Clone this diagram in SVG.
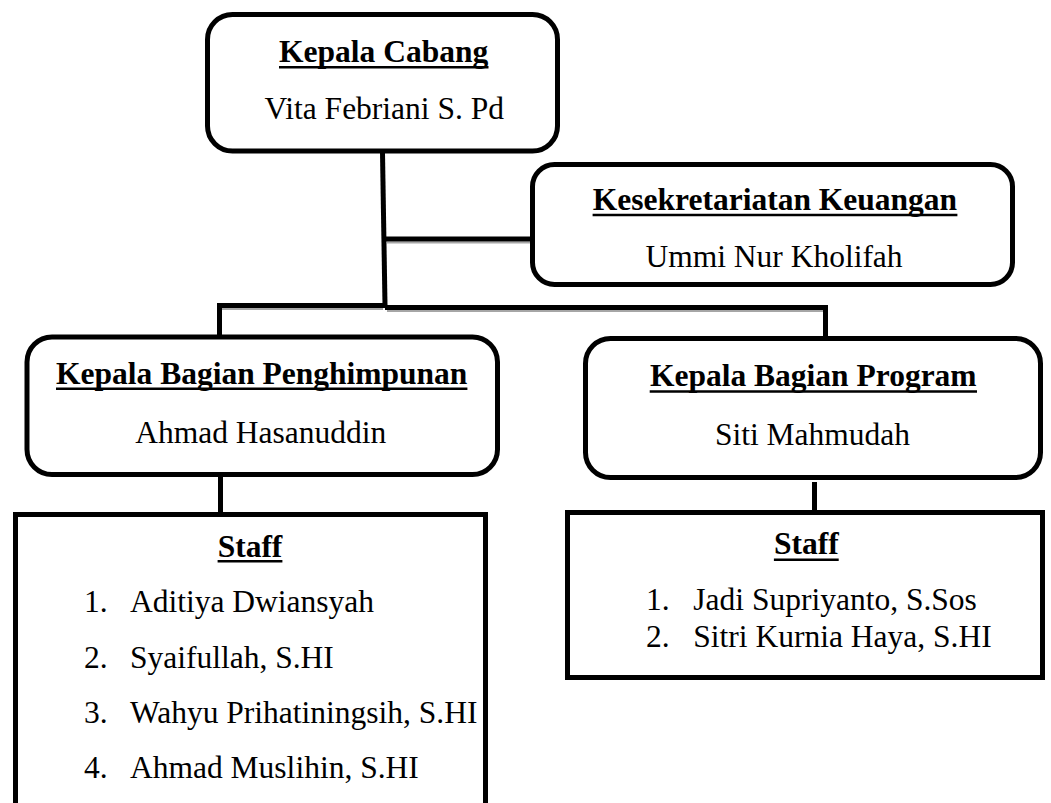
<svg xmlns="http://www.w3.org/2000/svg" width="1051" height="803" viewBox="0 0 1051 803">
<style>
.box{fill:#fff;stroke:#000;stroke-width:5}
.conn{fill:none;stroke:#000;stroke-width:5;stroke-linejoin:miter;stroke-linecap:butt}
.shadow{fill:none;stroke:#a6a6a6;stroke-width:2}
.t{font-family:"Liberation Serif","Times New Roman",serif;font-size:31.5px;fill:#000}
.b{font-weight:bold}
.c{text-anchor:middle}
.ul{stroke:#000;stroke-width:2.6}
</style>
<rect width="1051" height="803" fill="#fff"/>
<g id="connectors">
  <path class="shadow" d="M387 242.5 H530"/>
  <path class="shadow" d="M222 309 H383"/>
  <path class="shadow" d="M387 311 H823"/>
  <path class="conn" d="M382.5 153 L385 305"/>
  <path class="conn" d="M385 239 H532"/>
  <path class="conn" d="M219.5 337 V305.5 H385"/>
  <path class="conn" d="M385 307.5 H825.5 V338"/>
  <path class="conn" d="M220.5 477 V512"/>
  <path class="conn" d="M814.5 482 V510"/>
</g>
<g id="kepala-cabang">
  <rect class="box" x="207.5" y="14.5" width="350" height="136.5" rx="25"/>
  <text class="t b c" x="383.7" y="62">Kepala Cabang</text>
  <line class="ul" x1="279" y1="67.3" x2="488.5" y2="67.3"/>
  <text class="t c" x="384.2" y="119">Vita Febriani S. Pd</text>
</g>
<g id="kesekretariatan">
  <rect class="box" x="532.5" y="164.5" width="480" height="120" rx="22"/>
  <text class="t b c" x="775" y="210">Kesekretariatan Keuangan</text>
  <line class="ul" x1="592.6" y1="215" x2="957.4" y2="215"/>
  <text class="t c" x="774" y="266.7">Ummi Nur Kholifah</text>
</g>
<g id="kabag-penghimpunan">
  <rect class="box" x="27" y="337" width="470.5" height="137.5" rx="25"/>
  <text class="t b c" x="261.7" y="384.3">Kepala Bagian Penghimpunan</text>
  <line class="ul" x1="56" y1="388.7" x2="467.4" y2="388.7"/>
  <text class="t c" x="260.8" y="443.3">Ahmad Hasanuddin</text>
</g>
<g id="kabag-program">
  <rect class="box" x="585.5" y="338.5" width="455" height="139" rx="25"/>
  <text class="t b c" x="813.3" y="385.7">Kepala Bagian Program</text>
  <line class="ul" x1="649.7" y1="391.5" x2="977" y2="391.5"/>
  <text class="t c" x="812.5" y="445">Siti Mahmudah</text>
</g>
<g id="staff-penghimpunan">
  <rect class="box" x="15.5" y="514.5" width="470" height="320"/>
  <text class="t b c" x="250" y="556.7">Staff</text>
  <line class="ul" x1="217.6" y1="561.3" x2="282.4" y2="561.3"/>
  <text class="t" x="84" y="612.3">1.</text>
  <text class="t" x="130" y="612.3">Aditiya Dwiansyah</text>
  <text class="t" x="84" y="668.3">2.</text>
  <text class="t" x="130" y="668.3">Syaifullah, S.HI</text>
  <text class="t" x="84" y="723.3">3.</text>
  <text class="t" x="130" y="723.3">Wahyu Prihatiningsih, S.HI</text>
  <text class="t" x="84" y="778.3">4.</text>
  <text class="t" x="130" y="778.3">Ahmad Muslihin, S.HI</text>
</g>
<g id="staff-program">
  <rect class="box" x="567.5" y="512.5" width="475" height="165"/>
  <text class="t b c" x="806.3" y="554">Staff</text>
  <line class="ul" x1="773.9" y1="559.7" x2="838.7" y2="559.7"/>
  <text class="t" x="646" y="610">1.</text>
  <text class="t" x="693.3" y="610">Jadi Supriyanto, S.Sos</text>
  <text class="t" x="646" y="646.7">2.</text>
  <text class="t" x="693.3" y="646.7">Sitri Kurnia Haya, S.HI</text>
</g>
</svg>
